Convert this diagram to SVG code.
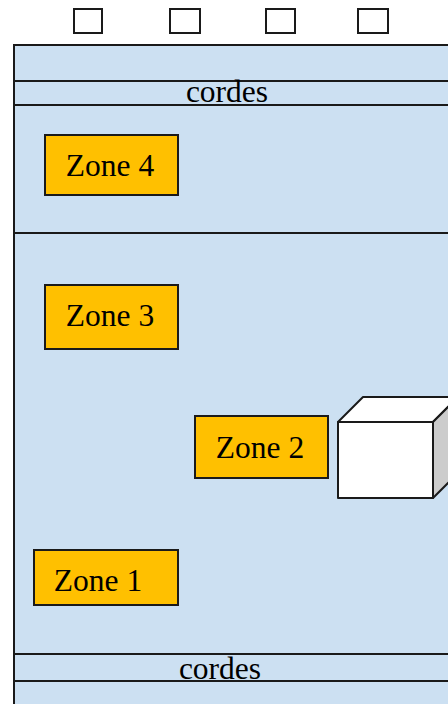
<svg xmlns="http://www.w3.org/2000/svg" width="448" height="704" viewBox="0 0 448 704">
  <style>
    .frame { fill: #cce0f2; stroke: #1a1a1a; stroke-width: 2; }
    .line { stroke: #1a1a1a; stroke-width: 2; fill: none; }
    .slot { fill: #ffffff; stroke: #1a1a1a; stroke-width: 2; }
    .zone { fill: #ffc000; stroke: #1a1a1a; stroke-width: 2; }
    .label { font-family: "Liberation Serif", "Times New Roman", serif; font-size: 31.5px; fill: #000; }
    .face { stroke: #1a1a1a; stroke-width: 2; stroke-linejoin: round; }
  </style>

  <!-- top slots -->
  <g id="slots">
    <rect class="slot" x="74" y="9" width="28" height="24"/>
    <rect class="slot" x="170" y="9" width="30" height="24"/>
    <rect class="slot" x="266" y="9" width="29" height="24"/>
    <rect class="slot" x="358" y="9" width="30" height="24"/>
  </g>

  <!-- main frame and horizontal bands -->
  <g id="frame">
    <rect class="frame" x="14" y="45" width="470" height="700"/>
    <line class="line" x1="14" y1="81" x2="448" y2="81"/>
    <line class="line" x1="14" y1="105" x2="448" y2="105"/>
    <line class="line" x1="14" y1="233" x2="448" y2="233"/>
    <line class="line" x1="14" y1="654" x2="448" y2="654"/>
    <line class="line" x1="14" y1="681" x2="448" y2="681"/>
    <text class="label" x="227" y="101.5" text-anchor="middle">cordes</text>
    <text class="label" x="220" y="678.5" text-anchor="middle">cordes</text>
  </g>

  <g id="zone4">
    <rect class="zone" x="45" y="135" width="133" height="60"/>
    <text class="label" x="110" y="176" text-anchor="middle">Zone 4</text>
  </g>

  <g id="zone3">
    <rect class="zone" x="45" y="285" width="133" height="64"/>
    <text class="label" x="110" y="326" text-anchor="middle">Zone 3</text>
  </g>

  <g id="zone2">
    <rect class="zone" x="195" y="416" width="133" height="62"/>
    <text class="label" x="260" y="458" text-anchor="middle">Zone 2</text>
  </g>

  <g id="zone1">
    <rect class="zone" x="34" y="550" width="144" height="55"/>
    <text class="label" x="98" y="591" text-anchor="middle">Zone 1</text>
  </g>

  <!-- box in perspective -->
  <g id="cube">
    <polygon class="face" fill="#ffffff" points="338,422 363,397 458,397 433,422"/>
    <polygon class="face" fill="#cccccc" points="433,422 458,397 458,473 433,498"/>
    <rect class="face" fill="#ffffff" x="338" y="422" width="95" height="76"/>
  </g>
</svg>
